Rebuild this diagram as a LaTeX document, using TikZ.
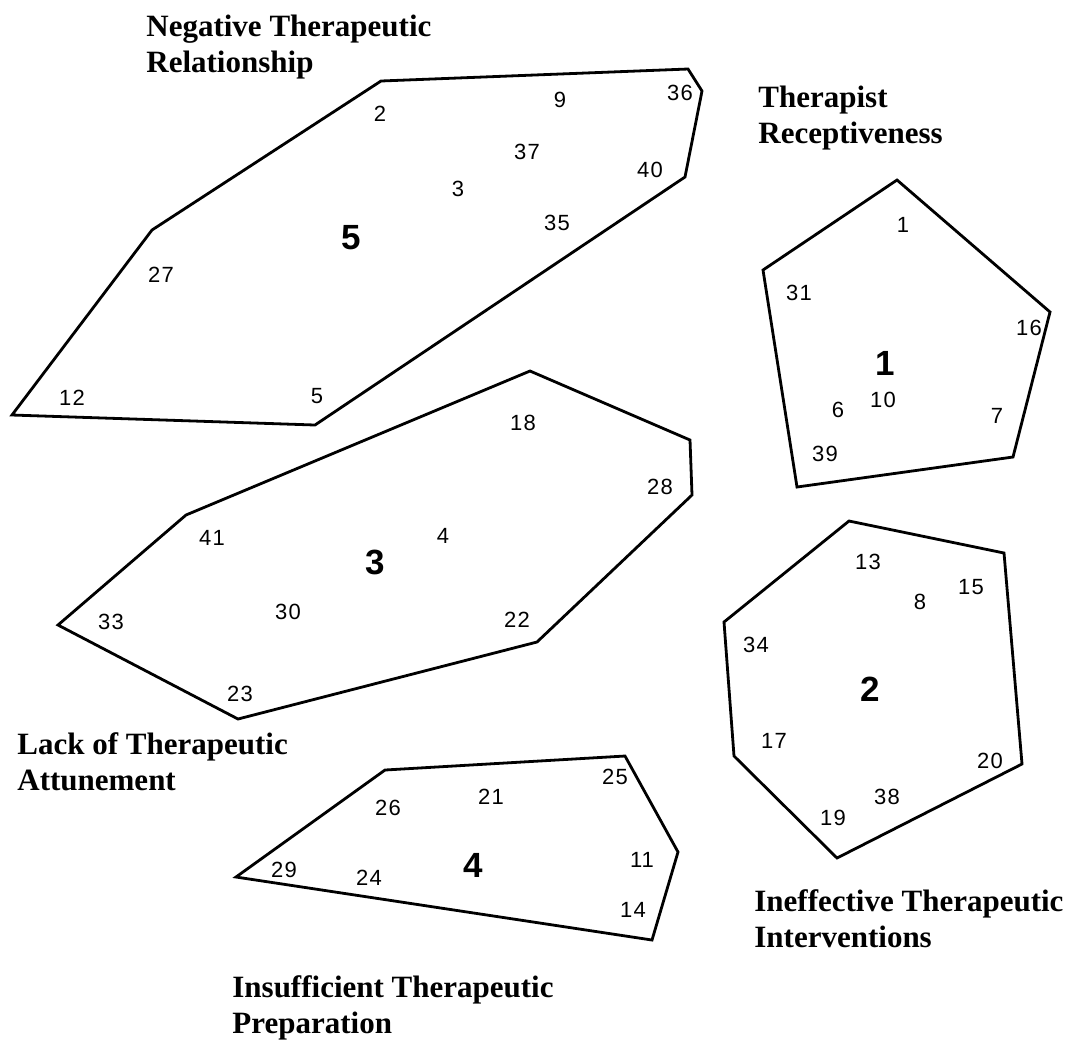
\documentclass[tikz,border=0pt]{standalone}
\usepackage{fontspec}
\setmainfont{Liberation Serif}
\newfontfamily\numfont[LetterSpace=5]{Liberation Sans}
\usepackage{tikz}

\begin{document}
\begin{tikzpicture}[x=0.5pt, y=-0.5pt,
  hull/.style={line width=1.4pt, line join=miter},
  item/.style={font=\numfont\fontsize{11}{11}\selectfont, inner sep=0pt},
  clus/.style={font=\numfont\bfseries\fontsize{17.5}{17.5}\selectfont, inner sep=0pt},
  title/.style={font=\bfseries\fontsize{15.5}{18}\selectfont, align=left,
                anchor=north west, inner sep=0pt}
]
  \useasboundingbox (0,0) rectangle (1080,1041);

  % cluster outlines
  \draw[hull] (381,81) -- (688,69) -- (702,91) -- (685,177) -- (315,425)
              -- (12,415) -- (152,230) -- cycle;
  \draw[hull] (897,180) -- (1050,312) -- (1013,457) -- (797,487) -- (763,270) -- cycle;
  \draw[hull] (849,521) -- (1004,553) -- (1022,764) -- (837,858) -- (734,756)
              -- (724,622) -- cycle;
  \draw[hull] (530,371) -- (690,440) -- (692,495) -- (537,642) -- (238,719)
              -- (58,625) -- (186,515) -- cycle;
  \draw[hull] (385,770) -- (625,756) -- (678,852) -- (652,940) -- (236,877) -- cycle;

  % statements, cluster 5
  \foreach \n/\x/\y in {2/380/114, 9/560/100, 36/680/93, 37/527/152, 40/650/170,
                        3/458/189, 35/557/223, 27/161/275, 12/72/398, 5/317/396}
    \node[item] (i\n) at (\x,\y) {\n};
  % cluster 1
  \foreach \n/\x/\y in {1/903/225, 31/799/293, 16/1029/328, 10/883/400,
                        6/838/410, 7/997/416, 39/825/454}
    \node[item] (i\n) at (\x,\y) {\n};
  % cluster 2
  \foreach \n/\x/\y in {13/868/562, 8/920/602, 15/971/587, 34/756/645,
                        17/774/741, 20/990/761, 38/887/797, 19/833/818}
    \node[item] (i\n) at (\x,\y) {\n};
  % cluster 3
  \foreach \n/\x/\y in {18/523/423, 28/660/487, 41/212/538, 4/443/536,
                        30/288/612, 33/111/622, 22/517/620, 23/240/694}
    \node[item] (i\n) at (\x,\y) {\n};
  % cluster 4
  \foreach \n/\x/\y in {25/615/777, 21/491/797, 26/388/808, 29/284/870,
                        24/369/878, 11/642/860, 14/633/910}
    \node[item] (i\n) at (\x,\y) {\n};

  % cluster numbers
  \node[clus] (c1) at (885,363) {1};
  \node[clus] (c2) at (870,689) {2};
  \node[clus] (c3) at (375,562) {3};
  \node[clus] (c4) at (473,865) {4};
  \node[clus] (c5) at (351,238) {5};

  % cluster names
  \node[title] (t5) at (146,15)  {Negative Therapeutic\\Relationship};
  \node[title] (t1) at (758,86)  {Therapist\\Receptiveness};
  \node[title] (t3) at (17,732)  {Lack of Therapeutic\\Attunement};
  \node[title] (t2) at (754,889) {Ineffective Therapeutic\\Interventions};
  \node[title] (t4) at (232,975) {Insufficient Therapeutic\\Preparation};
\end{tikzpicture}
\end{document}
